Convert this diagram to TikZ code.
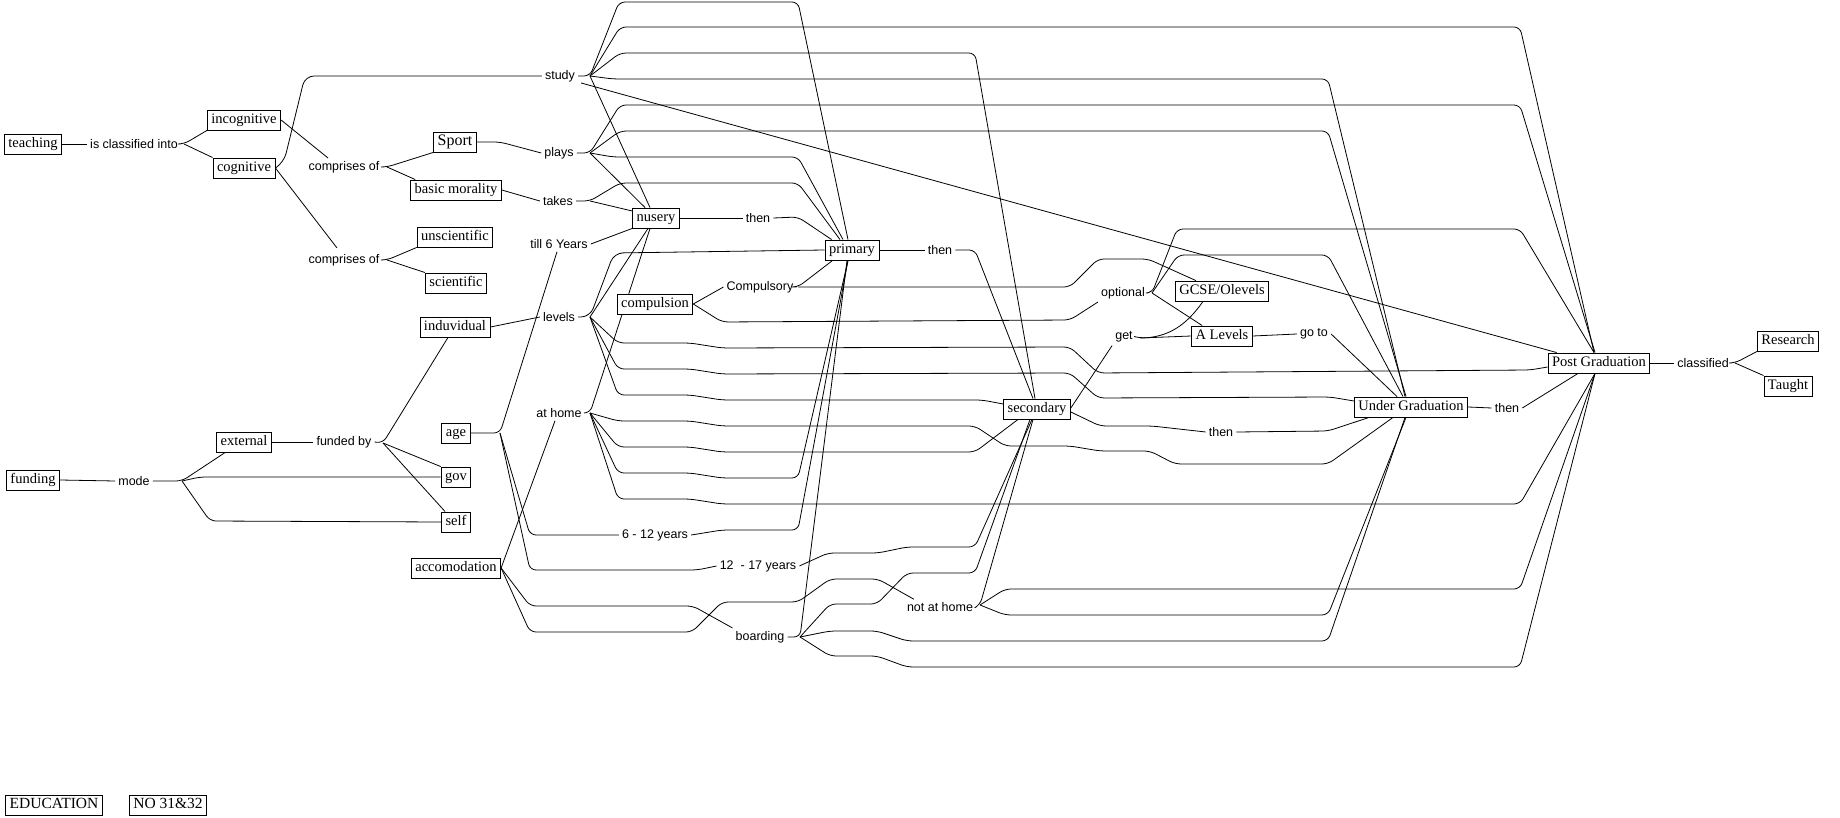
\documentclass[tikz,border=0pt]{standalone}
\usepackage{fontspec}
\setmainfont{Liberation Serif}
\newfontfamily\lbfam{Liberation Sans}
\usetikzlibrary{calc}
\pgfdeclarelayer{bg}
\pgfsetlayers{bg,main}
\newcommand{\cmfont}{\fontsize{14.5}{16}\selectfont}
\newcommand{\lbfont}{\lbfam\fontsize{12.5}{14}\selectfont}
\tikzset{
  concept/.style={draw, line width=0.9pt, fill=white, inner xsep=4pt, inner ysep=3.5pt,
    text height=10pt, text depth=3pt, font=\cmfont},
  lbl/.style={inner sep=3pt, font=\lbfont},
  conn/.style={line width=0.8pt, rounded corners=6pt}
}
\begin{document}
\begin{tikzpicture}[x=1pt,y=-1pt]
\useasboundingbox (0,0) rectangle (1840,818);
% ---------- concepts ----------
\node[concept] (teaching) at (33,144) {teaching};
\node[concept] (incog) at (244,120) {incognitive};
\node[concept] (cog) at (244,168) {cognitive};
\node[concept, font=\fontsize{16}{18}\selectfont] (sport) at (455,142) {Sport};
\node[concept] (basic) at (456,190) {basic morality};
\node[concept] (unsci) at (455,237) {unscientific};
\node[concept] (sci) at (456,283) {scientific};
\node[concept] (nusery) at (656,218) {nusery};
\node[concept] (primary) at (852,250) {primary};
\node[concept] (compulsion) at (655,304) {compulsion};
\node[concept] (induv) at (455,327) {induvidual};
\node[concept] (age) at (456,433) {age};
\node[concept] (gov) at (456,477) {gov};
\node[concept] (self) at (456,522) {self};
\node[concept] (funding) at (33,480) {funding};
\node[concept] (external) at (244,442) {external};
\node[concept] (accom) at (456,568) {accomodation};
\node[concept] (gcse) at (1222,291) {GCSE/Olevels};
\node[concept] (secondary) at (1037,409) {secondary};
\node[concept] (alevels) at (1222,336) {A Levels};
\node[concept] (pg) at (1599,363) {Post Graduation};
\node[concept] (research) at (1788,341) {Research};
\node[concept] (taught) at (1788,386) {Taught};
\node[concept] (ug) at (1411,407) {Under Graduation};
\node[concept, font=\fontsize{15.5}{17}\selectfont] (education) at (54,805) {EDUCATION};
\node[concept, font=\fontsize{15.5}{17}\selectfont] (no) at (168,805) {NO 31\&32};
% ---------- linking phrases ----------
\node[lbl] (isclass) at (134,144) {is classified into};
\node[lbl] (comp1) at (344,167) {comprises of};
\node[lbl] (comp2) at (344,260) {comprises of};
\node[lbl] (study) at (560,76) {study};
\node[lbl] (plays) at (559,153) {plays};
\node[lbl] (takes) at (558,201) {takes};
\node[lbl] (then1) at (758,218) {then};
\node[lbl] (till6) at (559,244) {till 6 Years};
\node[lbl] (compulsory) at (760,287) {Compulsory};
\node[lbl] (levels) at (559,317) {levels};
\node[lbl] (athome) at (559,413) {at home};
\node[lbl] (mode) at (134,481) {mode};
\node[lbl] (fundedby) at (344,442) {funded by};
\node[lbl] (y612) at (655,535) {6 - 12 years};
\node[lbl] (y1217) at (758,566) {12\ \ - 17 years};
\node[lbl] (boarding) at (760,637) {boarding};
\node[lbl] (then2) at (940,250) {then};
\node[lbl] (optional) at (1123,293) {optional};
\node[lbl] (get) at (1124,337) {get};
\node[lbl] (goto) at (1314,334) {go to};
\node[lbl] (then3) at (1221,432) {then};
\node[lbl] (notathome) at (940,607) {not at home};
\node[lbl] (classified) at (1703,363) {classified};
\node[lbl] (then4) at (1507,408) {then};
% ---------- fork points ----------
\coordinate (isF) at (184,144);
\coordinate (c1F) at (387,167);
\coordinate (c2F) at (387,260);
\coordinate (sF) at (590,76);
\coordinate (pF) at (590,153);
\coordinate (tF) at (590,201);
\coordinate (aF) at (500,433);
\coordinate (lF) at (590,317);
\coordinate (hF) at (590,413);
\coordinate (bF) at (800,637);
\coordinate (nF) at (980,605);
\coordinate (cyF) at (798,287);
\coordinate (oF) at (1152,293);
\coordinate (gF) at (1140,338);
\coordinate (clF) at (1735,363);
\coordinate (mF) at (182,481);
\coordinate (fF) at (383,443);
% ---------- connectors ----------
\begin{pgfonlayer}{bg}
\draw[conn] (teaching.east) -- (isclass.west);
\draw[conn] (isclass.east) -- (isF) -- (incog.south west);
\draw[conn] (isF) -- (cog.north west);
\draw[conn] (incog.east) -- ($(comp1.north)+(-16,0)$);
\draw[conn, rounded corners=9pt] (cog.east) -- (284,162) -- (305,76) -- (study.west);
\draw[conn] (cog.east) -- ($(comp2.north)+(-7,-3)$);
\draw[conn] (comp1.east) -- (c1F) -- (sport.south west);
\draw[conn] (c1F) -- ($(basic.north west)+(5,0)$);
\draw[conn] (comp2.east) -- (c2F) -- (unsci.south west);
\draw[conn] (c2F) -- (sci.north west);
\draw[conn] (sport.east) -- (500,142) -- (plays.west);
\draw[conn] (basic.east) -- (takes.west);
% study
\draw[conn] (study.east) -- (sF) -- (619,2) -- (798,2) -- ($(primary.north)+(-4,0)$);
\draw[conn] (sF) -- (620,27) -- (1520,27) -- ($(pg.north)+(-5,0)$);
\draw[conn] (sF) -- (620,53) -- (975,53) -- ($(secondary.north)+(-2,0)$);
\draw[conn] (sF) -- (613,79) -- (1328,79) -- ($(ug.north)+(-6,0)$);
\draw[conn] (sF) -- ($(nusery.north)+(-6,0)$);
\draw[conn] ($(study.east)+(3,7)$) -- ($(pg.north west)+(9,0)$);
% plays
\draw[conn] (plays.east) -- (pF) -- (620,105) -- (1520,105) -- ($(pg.north)+(-4,0)$);
\draw[conn] (pF) -- (620,131) -- (1328,131) -- ($(ug.north)+(-5,0)$);
\draw[conn] (pF) -- (613,157) -- (798,157) -- ($(primary.north)+(-9,0)$);
\draw[conn] (pF) -- ($(nusery.north)+(-11,0)$);
% takes
\draw[conn] (takes.east) -- (tF) -- (620,183) -- (798,183) -- ($(primary.north)+(-12,0)$);
\draw[conn] (tF) -- ($(nusery.west)+(0,-7)$);
% nusery
\draw[conn] (nusery.east) -- (then1.west);
\draw[conn] (then1.east) -- (798,217) -- ($(primary.north west)+(7,0)$);
\draw[conn] (nusery.south west) -- (till6.east);
% age
\draw[conn] (age.east) -- (aF) -- ($(till6.south)+(-2,0)$);
\draw[conn] (aF) -- (530,535) -- (y612.west);
\draw[conn] (aF) -- (530,570) -- (697,570) -- (y1217.west);
\draw[conn] (y612.east) -- (722,530) -- (798,530) -- ($(primary.south)+(-4,0)$);
\draw[conn] (y1217.east) -- (828,553) -- (878,553) -- (907,547) -- (975,547) -- ($(secondary.south)+(-5,0)$);
% levels
\draw[conn] (induv.east) -- (levels.west);
\draw[conn, rounded corners=9pt] (levels.east) -- (lF) -- (614,253) -- (primary.west);
\draw[conn] (lF) -- ($(nusery.south)+(-8,0)$);
\draw[conn] (lF) -- (618,343) -- (690,343) -- (722,348) -- (1070,347) -- (1098,373) -- (1530,370) -- ($(pg.west)+(0,4)$);
\draw[conn] (lF) -- (618,369) -- (690,369) -- (722,374) -- (1070,373) -- (1098,398) -- (1330,397) -- ($(ug.west)+(0,-6)$);
\draw[conn] (lF) -- (618,395) -- (690,395) -- (722,400) -- (982,400) -- ($(secondary.west)+(0,-5)$);
% at home
\draw[conn] (athome.east) -- (hF) -- ($(nusery.south)+(-6,0)$);
\draw[conn] (hF) -- (618,421) -- (690,421) -- (722,426) -- (975,426) -- (1005,446) -- (1070,446) -- (1100,451) -- (1150,451) -- (1175,464) -- (1328,464) -- ($(ug.south)+(-18,0)$);
\draw[conn] (hF) -- (618,447) -- (690,447) -- (722,452) -- (975,452) -- ($(secondary.south)+(-19,0)$);
\draw[conn] (hF) -- (618,473) -- (690,473) -- (722,478) -- (798,478) -- ($(primary.south)+(-4,0)$);
\draw[conn] (hF) -- (618,499) -- (690,499) -- (722,504) -- (1520,504) -- ($(pg.south)+(-4,0)$);
% accomodation
\draw[conn] (accom.east) -- ($(athome.south)+(-4,0)$);
\draw[conn] (accom.east) -- (530,606) -- (693,606) -- (boarding.north west);
\draw[conn] (accom.east) -- (530,632) -- (692,632) -- (722,602) -- (798,602) -- (830,579) -- (878,579) -- ($(notathome.north west)+(10,0)$);
% boarding
\draw[conn] (boarding.east) -- (bF) -- ($(primary.south)+(-5,0)$);
\draw[conn] (bF) -- (830,604) -- (877,604) -- (907,573) -- (975,573) -- ($(secondary.south)+(-7,0)$);
\draw[conn] (bF) -- (830,631) -- (877,631) -- (907,641) -- (1328,641) -- ($(ug.south)+(-6,0)$);
\draw[conn] (bF) -- (830,656) -- (877,656) -- (907,667) -- (1520,667) -- ($(pg.south)+(-4,0)$);
% not at home
\draw[conn] (notathome.east) -- (nF) -- ($(secondary.south)+(-4,0)$);
\draw[conn] (nF) -- (1005,589) -- (1520,589) -- ($(pg.south)+(-4,0)$);
\draw[conn] (nF) -- (1005,615) -- (1328,615) -- ($(ug.south)+(-5,0)$);
% compulsion
\draw[conn] (compulsion.east) -- (compulsory.west);
\draw[conn] (compulsion.east) -- (722,322) -- (1070,320) -- (optional.south west);
\draw[conn] (compulsory.east) -- (cyF) -- ($(primary.south west)+(8,0)$);
\draw[conn] (cyF) -- (1070,287) -- (1098,259) -- (1148,259) -- ($(gcse.north west)+(21,0)$);
% primary
\draw[conn] (primary.east) -- (then2.west);
\draw[conn] (then2.east) -- (975,250) -- ($(secondary.north)+(-4,0)$);
% optional
\draw[conn] (optional.east) -- (oF) -- (1177,229) -- (1520,229) -- ($(pg.north)+(-5,0)$);
\draw[conn] (oF) -- (1178,255) -- (1328,255) -- ($(ug.north)+(-8,0)$);
\draw[conn] (oF) -- ($(alevels.north west)+(11,0)$);
% secondary
\draw[conn] ($(secondary.east)+(0,-1)$) -- (get.south west);
\draw[conn] (get.east) -- (gF) -- (alevels.west);
\draw[conn] (gF) to[out=0, in=235] ($(gcse.south)+(-19,0)$);
\draw[conn] (alevels.east) -- (goto.west);
\draw[conn] (goto.east) -- ($(ug.north)+(-14,0)$);
\draw[conn] ($(secondary.east)+(0,3)$) -- (1100,426) -- (1152,426) -- (then3.west);
\draw[conn] (then3.east) -- (1328,431) -- ($(ug.south west)+(15,0)$);
% graduation
\draw[conn] (ug.east) -- (then4.west);
\draw[conn] (then4.east) -- ($(pg.south)+(-21,0)$);
\draw[conn] (pg.east) -- (classified.west);
\draw[conn] (classified.east) -- (clF) -- (research.south west);
\draw[conn] (clF) -- (taught.north west);
% funding
\draw[conn] (funding.east) -- (mode.west);
\draw[conn] (mode.east) -- (mF) -- ($(external.south west)+(9,0)$);
\draw[conn] (mF) -- (200,477) -- (gov.west);
\draw[conn] (mF) -- (210,521) -- (self.west);
\draw[conn] (external.east) -- (fundedby.west);
\draw[conn] (fundedby.east) -- (fF) -- ($(induv.south)+(-7,0)$);
\draw[conn] (fF) -- (gov.north west);
\draw[conn] (fF) -- ($(self.north west)+(4,0)$);
\end{pgfonlayer}
\end{tikzpicture}
\end{document}
